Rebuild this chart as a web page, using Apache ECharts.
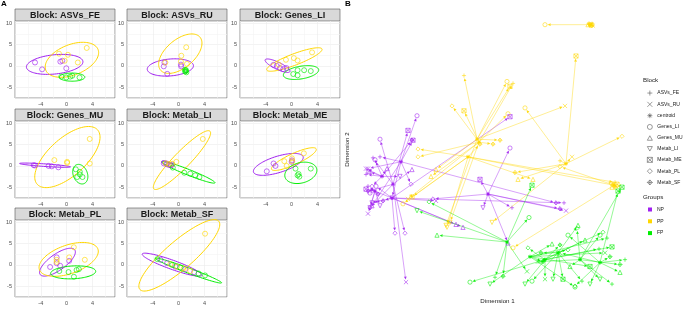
<!DOCTYPE html>
<html><head><meta charset="utf-8">
<script src="https://cdn.jsdelivr.net/npm/echarts@6/dist/echarts.min.js"></script>
<style>html,body{margin:0;padding:0;background:#fff}#c{width:685px;height:309px}</style>
</head><body><div id="c"></div>
<script>
// ---------- shared ----------
const blocks = ['ASVs_FE','ASVs_RU','Genes_LI','Genes_MU','Metab_LI','Metab_ME','Metab_PL','Metab_SF'];
const groups = ['NP','PP','FP'];
const groupColors = ['#A020F0','#FFD700','#00EE00'];
const xTickLabels = [-4, 0, 4];
const yTickLabels = [-5, 0, 5, 10];
const legendBlocks = ['ASVs_FE','ASVs_RU','centroid','Genes_LI','Genes_MU','Metab_LI','Metab_ME','Metab_PL','Metab_SF'];

// ---------- panel A: sample scores per block (x, y) ----------
const ptsNP = [
  [[-4.9,0.8],[-3.8,-0.8],[-0.97,1.0],[-0.66,1.2],[-0.05,-0.55]],
  [[-2.2,0.8],[-2.3,-0.1],[-1.76,-1.86],[0.36,0.3],[0.4,-0.1]],
  [[-2.83,0.24],[-2.3,0],[-1.8,-0.5],[-1.3,-0.76],[-0.8,-0.5]],
  [[-5.1,0.17],[-2.8,0],[-2.3,-0.1],[-1.28,-0.33],[-4.9,0.1]],
  [[-2.3,0.6],[-1.9,0.4],[-1.5,0.2],[-1.2,0.1],[-1.0,0.3]],
  [[-3.85,-1.26],[-2.8,0.57],[0.0,0.95],[0.06,1.3],[-2.5,0]],
  [[-1.54,1.76],[0.4,0.95],[-2.56,-0.48],[-1.54,0.4],[-1.0,-0.2]],
  [[-2.8,1.2],[-1.8,0.4],[-0.5,-0.4],[1.03,-1.0],[2.4,-1.7]]
];
const ptsPP = [
  [[-1.18,2.86],[0.2,2.6],[-0.3,1.2],[1.74,0.8],[3.12,4.2]],
  [[1.18,4.36],[0.42,2.38],[0.36,1.02],[1.29,0.48],[-2.05,0.8]],
  [[-0.88,1.43],[0.35,1.83],[0.92,1.27],[3.17,3.17],[-2.0,0.3]],
  [[3.58,6.3],[-1.9,1.36],[0.08,0.95],[0.08,0.7],[3.58,0.57]],
  [[3.75,6.3],[-0.35,0.95],[-1.0,0.5],[-1.5,0.4],[-2.0,0.6]],
  [[1.9,2.95],[0.1,1.1],[-1.13,1.1],[0.06,1.76],[-0.77,0]],
  [[1.12,4.14],[0.4,1.76],[2.82,1.2],[-1.54,1.2],[-1.54,0.7]],
  [[4.1,7.3],[-0.25,-0.4],[0.8,-0.8],[1.8,-1.4],[-1.28,0.17]]
];
const ptsFP = [
  [[-0.82,-2.5],[-0.05,-2.7],[0.57,-2.5],[0.88,-2.3],[2.0,-2.7]],
  [[1.0,-0.9],[1.1,-1.2],[1.2,-1.5],[1.0,-1.3],[1.15,-1.0]],
  [[0.25,-1.9],[0.92,-1.0],[1.94,-1.0],[2.97,-1.2],[0.92,-2.2]],
  [[1.43,-0.8],[2.05,-1.4],[1.64,-2.6],[2.46,-2.6],[2.05,-2.0]],
  [[0.88,-1.6],[1.8,-1.8],[2.57,-2.2],[3.23,-2.6],[-0.9,-0.4]],
  [[2.97,-0.63],[0.6,-0.63],[0.92,-2.2],[1.2,-2.5],[1.08,-1.9]],
  [[-1.13,-1.43],[0.3,-1.67],[1.54,-1.19],[1.9,-1.0],[1.13,-2.76]],
  [[-3.3,1.36],[-1.0,0.0],[0.26,-0.6],[3.1,-2.0],[4.1,-2.45]]
];
// confidence ellipses: centre x, centre y, semi-axis 1 (dx, dy), semi-axis 2 (dx, dy)
const ellNP = [
  [-1.85,0.36,4.38,0.6,0,2.26],
  [-1.28,-0.36,3.58,0.4,0,1.98],
  [-2.18,0.05,1.92,-1.38,0.23,0.76],
  [-3.34,0.17,3.95,-0.4,0,0.3],
  [-1.74,0.52,0.92,-0.36,-0.09,0.6],
  [-2.06,0.36,3.85,1.79,-0.35,1.83],
  [-1.42,0.64,2.69,2.86,-0.69,1.57],
  [-1.02,0.05,4.62,-2.5,0.23,1.01]
];
const ellPP = [
  [0.82,1.43,4.06,2.38,-0.82,3.33],
  [0.26,2.86,3.08,3.81,-1.34,2.6],
  [0.43,1.5,4.28,2.45,-0.3,1.24],
  [0.12,2.07,4.77,6.19,-1.69,3.57],
  [0.52,1.36,4.35,6.74,-0.88,1.36],
  [0.35,1.6,3.46,2.38,-0.34,1.19],
  [0.32,1.29,4.54,2.38,-0.69,3.17],
  [0.11,2.24,6.1,8.0,-1.46,2.4]
];
const ellFP = [
  [0.85,-2.62,1.97,0,0,0.95],
  [1.1,-1.2,0.2,-0.45,0.12,0.08],
  [1.46,-1.55,2.74,0.6,0,1.5],
  [2.12,-1.93,0.46,-2.26,1.08,0.36],
  [1.54,-1.5,4.1,-2.45,-0.15,-0.62],
  [1.43,-1.62,2.46,0.95,-0.37,2.31],
  [1.02,-1.74,3.49,0.24,0,1.5],
  [1.54,-1.33,5.12,-2.86,0.13,0.56]
];

// ---------- panel B: consensus centroids and block positions (8 blocks per sample) ----------
const centNP = [[-9.7,-3.8],[-8.9,-1.5],[-0.2,-4.8],[-11.5,-4.5],[-9.8,-5.2],[-10.8,-3.0]];
const endNP = [
  [[-11.7,-1.1],[-8.4,-13.8],[-11.0,0.8],[-7.8,-2.3],[-12.0,-6.2],[-8.2,1.7],[-8.5,-8.8],[-12.2,-4.5]],
  [[-11.0,-1.0],[-12.2,-2.2],[-7.3,3.2],[-11.8,-6.0],[-9.8,-5.2],[-7.7,0.7],[-7.9,-3.8],[6.6,-5.7]],
  [[2.2,-6.2],[7.6,-6.5],[2.0,-0.1],[1.8,-9.8],[-0.7,-6.2],[-1.0,-3.3],[-5.7,-5.3],[7.0,-6.3]],
  [[-12.2,-4.0],[-12.2,-6.8],[-12.0,-4.7],[-3.4,-7.9],[-11.0,-6.0],[-12.4,-4.3],[-12.0,-6.2],[-11.2,-4.8]],
  [[7.4,-5.7],[-5.4,-5.5],[-11.4,-4.0],[-2.7,-8.2],[-11.8,-5.7],[2.0,3.1],[-9.5,-8.8],[-10.7,-5.5]],
  [[-12.4,-2.8],[-12.4,-2.2],[-11.5,-1.3],[-10.3,-2.2],[-9.0,-3.0],[-12.1,-2.5],[-11.8,-4.0],[-7.8,0.7]]
];
const centPP = [[10.0,12.5],[-1.3,0.8],[-1.1,0.5],[7.6,-1.7],[-2.2,-1.0],[12.4,-3.9]];
const endPP = [
  [[10.2,12.6],[10.3,12.4],[5.5,12.5],[9.8,12.5],[10.0,12.4],[10.1,12.5],[9.9,12.6],[10.2,12.4]],
  [[-2.6,7.3],[7.5,4.2],[1.7,6.7],[-5.4,-2.3],[-4.4,-8.0],[2.0,6.2],[-3.8,4.2],[1.0,0.7]],
  [[2.3,6.5],[-8.2,-5.3],[1.8,3.4],[-5.9,-3.0],[-4.0,-7.7],[-2.6,3.7],[-7.2,-1.0],[0.3,0.3]],
  [[7.0,-1.4],[8.2,-1.0],[3.5,4.0],[2.8,-3.3],[0.2,-7.7],[8.6,9.3],[13.2,1.1],[2.5,-2.6]],
  [[12.5,-3.6],[12.9,-4.0],[-8.7,-5.8],[4.3,-3.3],[-4.3,-8.2],[-7.8,-5.1],[-7.2,-0.2],[-1.0,0.3]],
  [[12.3,-3.7],[12.6,-4.0],[2.3,-10.3],[12.2,-4.1],[12.1,-3.8],[12.7,-3.8],[7.0,-2.0],[12.5,-4.1]]
];
const centFP = [[1.7,-9.7],[6.8,-10.8],[9.0,-11.5],[4.0,-11.2],[11.0,-11.8],[5.5,-11.5]];
const endFP = [
  [[0.5,-13.3],[3.7,-12.7],[3.9,-7.2],[-5.3,-9.0],[-7.3,-6.5],[4.2,-3.9],[-6.1,-5.6],[1.3,-13.2]],
  [[9.2,-13.7],[5.0,-11.7],[4.2,-13.7],[8.8,-8.0],[6.3,-13.5],[7.3,-13.5],[11.3,-8.7],[5.1,-10.8]],
  [[12.2,-14.0],[4.8,-11.7],[11.0,-9.0],[8.0,-12.2],[11.0,-13.5],[13.2,-4.1],[8.7,-8.3],[13.0,-12.0]],
  [[11.7,-9.3],[11.5,-10.8],[8.5,-14.3],[6.2,-9.9],[0.0,-14.0],[10.0,-12.2],[7.8,-10.5],[5.3,-11.7]],
  [[13.5,-11.5],[7.0,-10.8],[7.8,-9.0],[13.0,-12.8],[10.0,-14.0],[12.8,-4.5],[8.5,-14.2],[12.0,-11.2]],
  [[10.9,-10.4],[5.5,-13.5],[-2.0,-13.8],[9.5,-9.5],[3.5,-14.0],[12.2,-10.2],[3.8,-10.3],[7.0,-10.0]]
];

// ---------- styling ----------
const FONT = '"Liberation Sans", Arial, sans-serif';
const blockSymbols = [
  'path://M5,0L5,10M0,5L10,5',
  'path://M0,0L10,10M10,0L0,10',
  'circle',
  'path://M5,0L10,9L0,9Z',
  'path://M0,1L10,1L5,10Z',
  'path://M0,0L10,0L10,10L0,10ZM0,0L10,10M10,0L0,10',
  'path://M5,0L10,5L5,10L0,5Z',
  'path://M5,0L10,5L5,10L0,5ZM5,0L5,10M0,5L10,5'
];
const centroidSymbol = 'path://M5,0L5,10M0,5L10,5M1.5,1.5L8.5,8.5M8.5,1.5L1.5,8.5';

const colLeft = [15, 127, 240], rowTop = [21, 121, 220], PW = 100, PH = 77, STRIP = 12;
const pts = [ptsNP, ptsPP, ptsFP], ells = [ellNP, ellPP, ellFP];
const cents = [centNP, centPP, centFP], ends = [endNP, endPP, endFP];

const grids = [], xAxes = [], yAxes = [], series = [], graphics = [];

function ellipseRender(color) {
  return function (params, api) {
    const cx = api.value(0), cy = api.value(1), ux = api.value(2), uy = api.value(3), vx = api.value(4), vy = api.value(5);
    const p = [];
    for (let k = 0; k <= 96; k++) {
      const t = k / 96 * 2 * Math.PI;
      p.push(api.coord([cx + ux * Math.cos(t) + vx * Math.sin(t), cy + uy * Math.cos(t) + vy * Math.sin(t)]));
    }
    return { type: 'polyline', shape: { points: p }, style: { fill: null, stroke: color, lineWidth: 1 } };
  };
}

blocks.forEach((b, i) => {
  const r = Math.floor(i / 3), c = i % 3;
  const L = colLeft[c], T = rowTop[r];
  grids.push({ left: L, top: T, width: PW, height: PH, show: true, borderColor: '#555', borderWidth: 0.6, backgroundColor: '#fff' });
  xAxes.push({ gridIndex: i, type: 'value', min: -8, max: 7.5, interval: 2,
    axisLine: { show: false }, axisTick: { show: false },
    axisLabel: { fontSize: 5.5, color: '#4d4d4d', margin: 3, fontFamily: FONT, formatter: v => xTickLabels.includes(v) ? String(v) : '' },
    splitLine: { lineStyle: { color: ['#ebebeb', '#f4f4f4'], width: 0.6 } } });
  yAxes.push({ gridIndex: i, type: 'value', min: -7.5, max: 10.5, interval: 2.5,
    axisLine: { show: false }, axisTick: { show: false },
    axisLabel: { fontSize: 5.5, color: '#4d4d4d', margin: 3, fontFamily: FONT, formatter: v => yTickLabels.includes(v) ? String(v) : '' },
    splitLine: { lineStyle: { color: ['#f4f4f4', '#ebebeb'], width: 0.6 } } });
  graphics.push({ type: 'rect', shape: { x: L, y: T - STRIP, width: PW, height: STRIP }, style: { fill: '#d9d9d9', stroke: '#555', lineWidth: 0.6 } });
  graphics.push({ type: 'text', x: L + PW / 2, y: T - STRIP / 2 + 0.5, style: { text: 'Block: ' + b, font: 'bold 9px ' + FONT, fill: '#1a1a1a', align: 'center', verticalAlign: 'middle' } });
  for (let g = 0; g < 3; g++) {
    series.push({ type: 'custom', xAxisIndex: i, yAxisIndex: i, silent: true, data: [ells[g][i]], renderItem: ellipseRender(groupColors[g]) });
  }
  for (let g = 0; g < 3; g++) {
    series.push({ type: 'scatter', xAxisIndex: i, yAxisIndex: i, silent: true, data: pts[g][i], symbol: 'circle', symbolSize: 5,
      itemStyle: { color: 'transparent', borderColor: groupColors[g], borderWidth: 0.8 } });
  }
});

// panel B
const BI = blocks.length;
grids.push({ left: 355, top: 10, width: 285, height: 285, show: false });
xAxes.push({ gridIndex: BI, type: 'value', min: -13.5, max: 15, axisLine: { show: false }, axisTick: { show: false }, axisLabel: { show: false }, splitLine: { show: false },
  name: 'Dimension 1', nameLocation: 'middle', nameGap: 9, nameTextStyle: { fontSize: 6.2, color: '#1a1a1a', fontFamily: FONT } });
yAxes.push({ gridIndex: BI, type: 'value', min: -14.5, max: 14, axisLine: { show: false }, axisTick: { show: false }, axisLabel: { show: false }, splitLine: { show: false },
  name: 'Dimension 2', nameLocation: 'middle', nameGap: 5, nameTextStyle: { fontSize: 6.2, color: '#1a1a1a', fontFamily: FONT } });

function arrowRender(color) {
  return function (params, api) {
    const p1 = api.coord([api.value(0), api.value(1)]);
    const p2 = api.coord([api.value(2), api.value(3)]);
    const dx = p2[0] - p1[0], dy = p2[1] - p1[1], len = Math.hypot(dx, dy);
    if (len < 1) return { type: 'group', children: [] };
    const ux = dx / len, uy = dy / len;
    if (len < 8) {
      return { type: 'line', shape: { x1: p1[0], y1: p1[1], x2: p2[0], y2: p2[1] }, style: { stroke: color, lineWidth: 0.6, opacity: 0.7 } };
    }
    const tip = [p2[0] - ux * 2.6, p2[1] - uy * 2.6];
    const ah = 3, aw = 1.4;
    const base = [tip[0] - ux * ah, tip[1] - uy * ah];
    return { type: 'group', children: [
      { type: 'line', shape: { x1: p1[0], y1: p1[1], x2: base[0], y2: base[1] }, style: { stroke: color, lineWidth: 0.6, opacity: 0.7 } },
      { type: 'polygon', shape: { points: [tip, [base[0] - uy * aw, base[1] + ux * aw], [base[0] + uy * aw, base[1] - ux * aw]] }, style: { fill: color, opacity: 0.9 } }
    ] };
  };
}

groups.forEach((gname, g) => {
  const data = [];
  cents[g].forEach((c, s) => ends[g][s].forEach(e => data.push([c[0], c[1], e[0], e[1]])));
  series.push({ type: 'custom', name: gname, xAxisIndex: BI, yAxisIndex: BI, silent: true, data: data,
    itemStyle: { color: groupColors[g] }, renderItem: arrowRender(groupColors[g]) });
});

blocks.forEach((b, k) => {
  const data = [];
  groups.forEach((gname, g) => ends[g].forEach(sample => data.push({ value: sample[k], itemStyle: { borderColor: groupColors[g] } })));
  series.push({ type: 'scatter', name: b, xAxisIndex: BI, yAxisIndex: BI, silent: true, symbol: blockSymbols[k], symbolSize: 4.2, data: data,
    itemStyle: { color: 'transparent', borderColor: '#4d4d4d', borderWidth: 0.7 } });
});
{
  const data = [];
  groups.forEach((gname, g) => cents[g].forEach(c => data.push({ value: c, itemStyle: { borderColor: groupColors[g] } })));
  series.push({ type: 'scatter', name: 'centroid', xAxisIndex: BI, yAxisIndex: BI, silent: true, symbol: centroidSymbol, symbolSize: 4, data: data,
    itemStyle: { color: 'transparent', borderColor: '#4d4d4d', borderWidth: 1 } });
}

const option = {
  animation: false,
  backgroundColor: '#fff',
  textStyle: { fontFamily: FONT },
  title: [
    { text: 'A', left: 1, top: 0, padding: 0, textStyle: { fontSize: 8, fontWeight: 'bold', color: '#000', fontFamily: FONT } },
    { text: 'B', left: 345, top: 0, padding: 0, textStyle: { fontSize: 8, fontWeight: 'bold', color: '#000', fontFamily: FONT } },
    { text: 'Block', left: 643, top: 77.5, padding: 0, textStyle: { fontSize: 6.2, fontWeight: 'normal', color: '#1a1a1a', fontFamily: FONT } },
    { text: 'Groups', left: 643, top: 194.5, padding: 0, textStyle: { fontSize: 6.2, fontWeight: 'normal', color: '#1a1a1a', fontFamily: FONT } }
  ],
  legend: [
    { data: legendBlocks, orient: 'vertical', left: 647, top: 90.2, padding: 0, itemWidth: 5, itemHeight: 5, itemGap: 5.6, itemTextGap: 5, selectedMode: false,
      itemStyle: { color: 'transparent', borderColor: '#4d4d4d', borderWidth: 0.7 },
      textStyle: { fontSize: 5, color: '#1a1a1a', fontFamily: FONT, width: 40, overflow: 'none' } },
    { data: groups.map((n, g) => ({ name: n, icon: 'rect', itemStyle: { color: groupColors[g], borderWidth: 0 } })), orient: 'vertical', left: 648, top: 207, padding: 0,
      itemWidth: 4, itemHeight: 4, itemGap: 6.8, itemTextGap: 6, selectedMode: false, textStyle: { fontSize: 5, color: '#1a1a1a', fontFamily: FONT, width: 40, overflow: 'none' } }
  ],
  grid: grids, xAxis: xAxes, yAxis: yAxes, series: series,
  graphic: graphics
};
const chart = echarts.init(document.getElementById('c'), null, { renderer: 'canvas' });
chart.setOption(option);
</script></body></html>
